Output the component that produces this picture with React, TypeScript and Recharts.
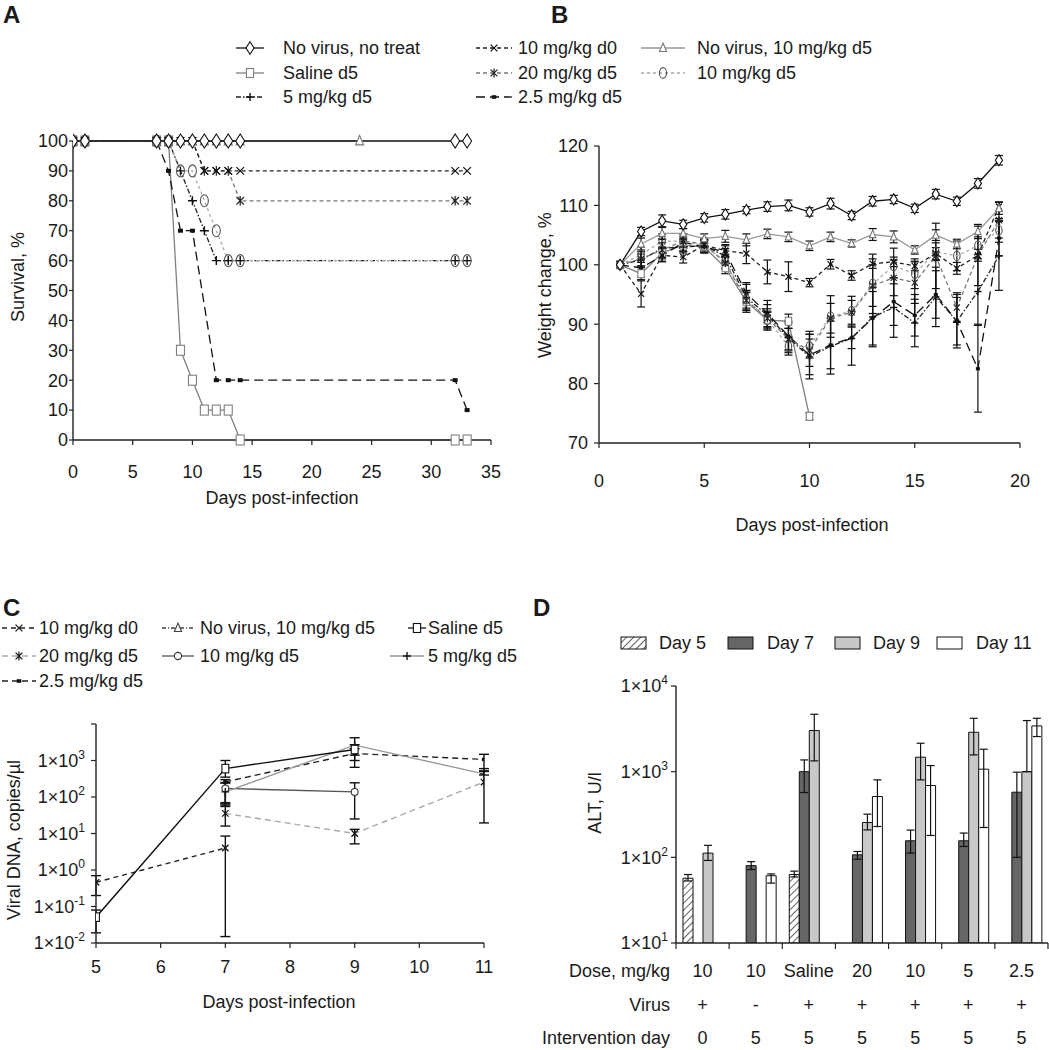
import React from 'react';
import { LineChart, Line, XAxis, YAxis, ErrorBar, BarChart, Bar } from 'recharts';

const FONT = '"Liberation Sans", Arial, Helvetica, sans-serif';
const INK = '#1a1a1a';

// ---------- A: survival ----------
const daysA = [0, 1, 7, 8, 9, 10, 11, 12, 13, 14, 32, 33];
const survNoVirusNoTreat = [100, 100, 100, 100, 100, 100, 100, 100, 100, 100, 100, 100];
const survSaline = [100, 100, 100, 100, 30, 20, 10, 10, 10, 0, 0, 0];
const survFive = [100, 100, 100, 100, 90, 80, 70, 60, 60, 60, 60, 60];
const survTenD0 = [100, 100, 100, 100, 100, 100, 90, 90, 90, 90, 90, 90];
const survTwenty = [100, 100, 100, 100, 100, 100, 90, 90, 90, 80, 80, 80];
const survTwoFive = [100, 100, 100, 90, 70, 70, null, 20, 20, 20, 20, 10];
const survTenD5 = [100, 100, 100, 100, 90, 90, 80, 70, 60, 60, 60, 60];
const daysNoVirusTenA = [0, 1, 7, 8, 9, 10, 11, 12, 13, 14, 24];
const survNoVirusTen = [100, 100, 100, 100, 100, 100, 100, 100, 100, 100, 100];
const survivalTicks = [0, 10, 20, 30, 40, 50, 60, 70, 80, 90, 100];
const daysTicksA = [0, 5, 10, 15, 20, 25, 30, 35];

// ---------- B: weight change ----------
const daysB = [1, 2, 3, 4, 5, 6, 7, 8, 9, 10, 11, 12, 13, 14, 15, 16, 17, 18, 19];
const wNoVirusNoTreat = [100, 105.6, 107.4, 106.8, 107.9, 108.5, 109.2, 109.8, 110.0, 108.9, 110.3, 108.3, 110.7, 111.0, 109.5, 111.9, 110.7, 113.7, 117.6];
const eNoVirusNoTreat = [0.6, 0.7, 1.0, 0.7, 0.7, 0.8, 0.6, 0.8, 0.9, 0.7, 0.9, 0.7, 0.8, 0.7, 0.7, 0.8, 0.7, 0.8, 0.8];
const wNoVirusTen = [100, 103.5, 105.3, 105.3, 104.4, 104.8, 104.2, 105.2, 104.7, 103.2, 104.7, 103.6, 105.1, 104.7, 102.5, 105.0, 103.5, 105.6, 109.5];
const eNoVirusTen = [0.6, 1.0, 1.0, 0.8, 0.8, 1.0, 1.0, 0.8, 0.8, 0.8, 0.8, 0.6, 1.0, 1.0, 0.7, 0.9, 0.8, 1.2, 1.0];
const wTenD0 = [100, 95.1, 101.6, 101.3, 103.3, 102.4, 101.9, 98.8, 98.0, 97.0, 100.1, 98.2, 100.2, 100.5, 99.8, 101.9, 99.4, 101.6, 109.8];
const eTenD0 = [0.5, 2.2, 1.0, 1.0, 1.0, 1.0, 1.7, 2.0, 2.5, 0.7, 0.8, 0.8, 0.8, 0.8, 0.8, 1.0, 1.0, 1.0, 0.8];
const wTwenty = [100, 101.0, 102.5, 104.0, 103.5, 100.3, 94.0, 91.0, 87.5, 85.6, 91.0, 92.0, 96.5, 97.8, 97.0, 101.5, 92.8, 101.5, 107.5];
const eTwenty = [0.5, 1.2, 1.2, 1.2, 1.0, 1.0, 1.6, 1.6, 1.8, 2.7, 2.5, 2.0, 3.5, 3.0, 3.5, 5.5, 2.5, 5.0, 3.0];
const wTenD5 = [100, 101.7, 104.0, 104.0, 103.2, 100.6, 94.2, 90.8, 86.3, 86.3, 91.3, 92.2, 96.8, 99.8, 98.5, 102.2, 101.5, 103.2, 105.8];
const eTenD5 = [0.5, 1.3, 1.2, 1.2, 1.0, 1.1, 1.5, 1.2, 1.5, 2.0, 3.5, 2.5, 5.0, 3.0, 2.5, 1.5, 2.5, 1.5, 2.0];
const wFive = [100, 100.8, 102.8, 103.0, 103.2, 101.5, 94.5, 91.5, 87.7, 84.5, 86.3, 87.6, 91.2, 92.8, 90.2, 94.6, 90.5, 95.5, 101.5];
const eFive = [0.5, 1.0, 1.5, 1.0, 1.0, 1.2, 2.5, 2.5, 2.5, 3.0, 4.7, 4.5, 5.0, 5.0, 4.0, 5.0, 4.5, 5.5, 5.8];
const wTwoFive = [100, 99.5, 101.5, 103.8, 103.0, 102.2, 95.2, 91.8, 88.0, 84.8, 86.5, 87.7, 91.0, 93.8, 91.5, 95.0, 90.5, 82.5, 104.5];
const eTwoFive = [0.5, 1.5, 1.0, 1.0, 1.0, 1.0, 1.5, 1.5, 2.5, 4.0, 4.0, 1.8, 4.5, 4.0, 3.5, 4.0, 4.0, 7.3, 3.0];
const daysSalineB = [1, 2, 3, 4, 5, 6, 7, 8, 9, 10];
const wSaline = [100, 98.5, 102.0, 103.3, 103.0, 99.5, 93.8, 90.7, 90.5, 74.5];
const eSaline = [0.5, 1.0, 1.0, 1.0, 1.0, 1.0, 1.5, 1.5, 1.2, 0.6];
const weightTicks = [70, 80, 90, 100, 110, 120];
const daysTicksB = [0, 5, 10, 15, 20];

// ---------- C: viral DNA (copies/µl), value + error low/high ----------
const dTenD0 = [5, 7];
const vTenD0 = [0.46, 4.0];
const loTenD0 = [0.2, 0.015];
const hiTenD0 = [0.7, 8.5];
const dSaline = [5, 7, 9];
const vSaline = [0.051, 600, 2000];
const loSaline = [0.019, 350, 1400];
const hiSaline = [0.08, 1000, 2700];
const dTwoFive = [7, 9, 11];
const vTwoFive = [260, 1550, 1070];
const loTwoFive = [60, 1000, 500];
const hiTwoFive = [300, 2100, 1480];
const dFive = [7, 9, 11];
const vFive = [138, 2640, 430];
const loFive = [55, 650, 400];
const hiFive = [240, 4200, 520];
const dTenD5 = [7, 9];
const vTenD5 = [172, 138];
const loTenD5 = [65, 25];
const hiTenD5 = [250, 245];
const dTwenty = [7, 9, 11];
const vTwenty = [35.5, 10, 257];
const loTwenty = [16, 5.2, 19.5];
const hiTwenty = [70, 13, 600];
const dnaTicks = [0.01, 0.1, 1, 10, 100, 1000, 10000];
const daysTicksC = [5, 6, 7, 8, 9, 10, 11];

// ---------- D: ALT (U/l) ----------
const doseLabels = ['10', '10', 'Saline', '20', '10', '5', '2.5'];
const virusLabels = ['+', '-', '+', '+', '+', '+', '+'];
const interventionDays = ['0', '5', '5', '5', '5', '5', '5'];
const altDay5 = [57, null, 63, null, null, null, null];
const altDay5Lo = [53, null, 59, null, null, null, null];
const altDay5Hi = [63, null, 69, null, null, null, null];
const altDay7 = [null, 80, 1000, 107, 156, 156, 576];
const altDay7Lo = [null, 72, 571, 95, 112, 134, 100];
const altDay7Hi = [null, 89, 1371, 117, 208, 192, 986];
const altDay9 = [112, null, 3020, 255, 1475, 2884, 1000];
const altDay9Lo = [92, null, 1336, 209, 802, 1570, 1000];
const altDay9Hi = [138, null, 4677, 319, 2148, 4198, 3950];
const altDay11 = [null, 61, null, 513, 689, 1069, 3420];
const altDay11Lo = [null, 50, null, 229, 180, 223, 2570];
const altDay11Hi = [null, 64, null, 802, 1178, 1828, 4200];
const altTicks = [10, 100, 1000, 10000];

type Kind = 'diamond' | 'square' | 'plus' | 'x' | 'star' | 'rect' | 'tri' | 'ellipse' | 'circle';
interface SeriesStyle { label: string; color: string; dash?: string; marker: Kind; mcolor: string }

const ST: Record<string, SeriesStyle> = {
  noVirusNoTreat: { label: 'No virus, no treat', color: '#111', marker: 'diamond', mcolor: '#111' },
  saline: { label: 'Saline d5', color: '#808080', marker: 'square', mcolor: '#808080' },
  five: { label: '5 mg/kg d5', color: '#222', dash: '5 2 1.5 2', marker: 'plus', mcolor: '#111' },
  tenD0: { label: '10 mg/kg d0', color: '#222', dash: '4 3', marker: 'x', mcolor: '#111' },
  twenty: { label: '20 mg/kg d5', color: '#777', dash: '4 3', marker: 'star', mcolor: '#222' },
  twoFive: { label: '2.5 mg/kg d5', color: '#111', dash: '9 5', marker: 'rect', mcolor: '#111' },
  noVirusTen: { label: 'No virus, 10 mg/kg d5', color: '#999', marker: 'tri', mcolor: '#777' },
  tenD5: { label: '10 mg/kg d5', color: '#aaa', dash: '3 3', marker: 'ellipse', mcolor: '#555' },
};

const STC: Record<string, SeriesStyle> = {
  tenD0: { label: '10 mg/kg d0', color: '#222', dash: '5 4', marker: 'x', mcolor: '#111' },
  twenty: { label: '20 mg/kg d5', color: '#aaa', dash: '6 4', marker: 'star', mcolor: '#111' },
  twoFive: { label: '2.5 mg/kg d5', color: '#222', dash: '6 4', marker: 'rect', mcolor: '#111' },
  noVirusTen: { label: 'No virus, 10 mg/kg d5', color: '#444', dash: '4 2 1 2', marker: 'tri', mcolor: '#444' },
  tenD5: { label: '10 mg/kg d5', color: '#555', marker: 'circle', mcolor: '#333' },
  saline: { label: 'Saline d5', color: '#111', marker: 'square', mcolor: '#111' },
  five: { label: '5 mg/kg d5', color: '#999', marker: 'plus', mcolor: '#111' },
};

function Marker({ kind, cx, cy, color, s = 1 }: { kind: Kind; cx: number; cy: number; color: string; s?: number }) {
  const sw = 1.1;
  switch (kind) {
    case 'diamond': {
      const w = 4.5 * s, h = 7 * s;
      return <polygon points={`${cx},${cy - h} ${cx + w},${cy} ${cx},${cy + h} ${cx - w},${cy}`} fill="#fff" stroke={color} strokeWidth={sw} />;
    }
    case 'square': {
      const w = 4 * s, h = 5 * s;
      return <rect x={cx - w} y={cy - h} width={2 * w} height={2 * h} fill="#fff" stroke={color} strokeWidth={sw} />;
    }
    case 'plus': {
      const r = 4.5 * s;
      return <path d={`M${cx - r},${cy}H${cx + r}M${cx},${cy - r}V${cy + r}`} stroke={color} strokeWidth={1.4} fill="none" />;
    }
    case 'x': {
      const r = 3.8 * s;
      return <path d={`M${cx - r},${cy - r}L${cx + r},${cy + r}M${cx + r},${cy - r}L${cx - r},${cy + r}`} stroke={color} strokeWidth={1.2} fill="none" />;
    }
    case 'star': {
      const r = 3.8 * s;
      return <path d={`M${cx - r},${cy - r}L${cx + r},${cy + r}M${cx + r},${cy - r}L${cx - r},${cy + r}M${cx},${cy - r - 1}V${cy + r + 1}`} stroke={color} strokeWidth={1.2} fill="none" />;
    }
    case 'rect':
      return <rect x={cx - 2.5 * s} y={cy - 2 * s} width={5 * s} height={4 * s} fill={color} />;
    case 'tri': {
      const w = 4 * s, h = 5.5 * s;
      return <polygon points={`${cx},${cy - h} ${cx + w},${cy + h * 0.7} ${cx - w},${cy + h * 0.7}`} fill="#fff" stroke={color} strokeWidth={sw} />;
    }
    case 'ellipse':
      return <ellipse cx={cx} cy={cy} rx={4 * s} ry={6 * s} fill="none" stroke={color} strokeWidth={sw} />;
    case 'circle':
      return <circle cx={cx} cy={cy} r={4 * s} fill="#fff" stroke={color} strokeWidth={sw} />;
    default:
      return null;
  }
}

const dotOf = (st: SeriesStyle, s: number) => (p: any) => {
  const { cx, cy, index } = p;
  if (cx == null || cy == null || Number.isNaN(cy)) return <g key={`d${index}`} />;
  return (
    <g key={`d${index}`}>
      <Marker kind={st.marker} cx={cx} cy={cy} color={st.mcolor} s={s} />
    </g>
  );
};

const pts = (xs: number[], ys: (number | null)[]) => xs.map((x, i) => ({ x, y: ys[i] }));
const ptsErr = (xs: number[], ys: number[], es: number[]) => xs.map((x, i) => ({ x, y: ys[i], e: es[i] }));
const ptsRange = (xs: number[], ys: number[], lo: number[], hi: number[]) =>
  xs.map((x, i) => ({ x, y: ys[i], e: [ys[i] - lo[i], hi[i] - ys[i]] }));
const errOf = (v: number | null, lo: number | null, hi: number | null) =>
  v == null || lo == null || hi == null ? undefined : [v - lo, hi - v];

const altRows = doseLabels.map((dose, i) => ({
  cat: i,
  dose,
  d5: altDay5[i], d5e: errOf(altDay5[i], altDay5Lo[i], altDay5Hi[i]),
  d7: altDay7[i], d7e: errOf(altDay7[i], altDay7Lo[i], altDay7Hi[i]),
  d9: altDay9[i], d9e: errOf(altDay9[i], altDay9Lo[i], altDay9Hi[i]),
  d11: altDay11[i], d11e: errOf(altDay11[i], altDay11Lo[i], altDay11Hi[i]),
}));

const axisLine = { stroke: '#222', strokeWidth: 1.4 };
const tickLine = { stroke: '#222', strokeWidth: 1.2 };
const tickStyle = { fontSize: 18, fill: INK, fontFamily: FONT };

function Txt({ x, y, children, anchor = 'start', size = 18, bold = false, rotate = false }: any) {
  const tx = anchor === 'start' ? '0' : anchor === 'middle' ? '-50%' : '-100%';
  return (
    <div
      style={{
        position: 'absolute', left: x, top: y, whiteSpace: 'nowrap', lineHeight: 1,
        transform: `translate(${tx}, -50%)${rotate ? ' rotate(-90deg)' : ''}`,
        fontSize: size, fontWeight: bold ? 700 : 400, fontFamily: FONT, color: INK,
      }}
    >
      {children}
    </div>
  );
}

function LegendItem({ x, y, w, textX, st }: { x: number; y: number; w: number; textX: number; st: SeriesStyle }) {
  return (
    <>
      <svg style={{ position: 'absolute', left: x, top: y - 9 }} width={w} height={18}>
        <line x1={0} y1={9} x2={w} y2={9} stroke={st.color} strokeWidth={1.3} strokeDasharray={st.dash} />
        <Marker kind={st.marker} cx={w / 2} cy={9} color={st.mcolor} s={0.9} />
      </svg>
      <Txt x={textX} y={y}>{st.label}</Txt>
    </>
  );
}

function PowTick(props: any) {
  const { x, y, payload, maxLabel } = props;
  const v = payload.value;
  if (v > maxLabel) return <g />;
  const exp = Math.round(Math.log10(v));
  return (
    <text x={x} y={y} dy="0.36em" textAnchor="end" fontSize={18} fill={INK} fontFamily={FONT}>
      1×10<tspan dy={-8} fontSize={12}>{exp}</tspan>
    </text>
  );
}

function DoseTick(props: any) {
  const { x, y, payload } = props;
  const i = payload.value as number;
  const half = payload.offset ?? 26.6;
  const t = { textAnchor: 'middle' as const, fontSize: 18, fill: INK, fontFamily: FONT };
  return (
    <g>
      <line x1={x + half} y1={y} x2={x + half} y2={y + 6} stroke="#222" strokeWidth={1.2} />
      {i === 0 && <line x1={x - half} y1={y} x2={x - half} y2={y + 6} stroke="#222" strokeWidth={1.2} />}
      <text x={x} y={y + 34} {...t}>{doseLabels[i]}</text>
      <text x={x} y={y + 68} {...t}>{virusLabels[i]}</text>
      <text x={x} y={y + 101} {...t}>{interventionDays[i]}</text>
    </g>
  );
}

const seriesA = [
  { st: ST.saline, data: pts(daysA, survSaline) },
  { st: ST.twoFive, data: pts(daysA, survTwoFive) },
  { st: ST.five, data: pts(daysA, survFive) },
  { st: ST.tenD5, data: pts(daysA, survTenD5) },
  { st: ST.twenty, data: pts(daysA, survTwenty) },
  { st: ST.tenD0, data: pts(daysA, survTenD0) },
  { st: ST.noVirusTen, data: pts(daysNoVirusTenA, survNoVirusTen) },
  { st: ST.noVirusNoTreat, data: pts(daysA, survNoVirusNoTreat) },
];

const seriesB = [
  { st: ST.saline, data: ptsErr(daysSalineB, wSaline, eSaline) },
  { st: ST.twoFive, data: ptsErr(daysB, wTwoFive, eTwoFive) },
  { st: ST.five, data: ptsErr(daysB, wFive, eFive) },
  { st: ST.tenD5, data: ptsErr(daysB, wTenD5, eTenD5) },
  { st: ST.twenty, data: ptsErr(daysB, wTwenty, eTwenty) },
  { st: ST.tenD0, data: ptsErr(daysB, wTenD0, eTenD0) },
  { st: ST.noVirusTen, data: ptsErr(daysB, wNoVirusTen, eNoVirusTen) },
  { st: ST.noVirusNoTreat, data: ptsErr(daysB, wNoVirusNoTreat, eNoVirusNoTreat) },
];

const seriesC = [
  { st: STC.twenty, data: ptsRange(dTwenty, vTwenty, loTwenty, hiTwenty) },
  { st: STC.tenD0, data: ptsRange(dTenD0, vTenD0, loTenD0, hiTenD0) },
  { st: STC.tenD5, data: ptsRange(dTenD5, vTenD5, loTenD5, hiTenD5) },
  { st: STC.twoFive, data: ptsRange(dTwoFive, vTwoFive, loTwoFive, hiTwoFive) },
  { st: STC.five, data: ptsRange(dFive, vFive, loFive, hiFive) },
  { st: STC.saline, data: ptsRange(dSaline, vSaline, loSaline, hiSaline) },
];

export default function App() {
  return (
    <div style={{ position: 'absolute', left: 0, top: 0, width: 1049, height: 1050, background: '#fff', overflow: 'hidden' }}>
      {/* panel letters */}
      <Txt x={3} y={15} size={24} bold>A</Txt>
      <Txt x={551} y={15} size={24} bold>B</Txt>
      <Txt x={3} y={608} size={24} bold>C</Txt>
      <Txt x={533} y={608} size={24} bold>D</Txt>

      {/* shared legend for A and B */}
      <LegendItem x={236} y={48} w={28} textX={283} st={ST.noVirusNoTreat} />
      <LegendItem x={236} y={73} w={28} textX={283} st={ST.saline} />
      <LegendItem x={236} y={97} w={28} textX={283} st={ST.five} />
      <LegendItem x={476} y={48} w={36} textX={518} st={ST.tenD0} />
      <LegendItem x={476} y={73} w={36} textX={518} st={ST.twenty} />
      <LegendItem x={476} y={97} w={36} textX={518} st={ST.twoFive} />
      <LegendItem x={641} y={48} w={44} textX={697} st={ST.noVirusTen} />
      <LegendItem x={641} y={73} w={44} textX={697} st={ST.tenD5} />

      {/* A */}
      <div style={{ position: 'absolute', left: 0, top: 120 }}>
        <LineChart width={530} height={400} margin={{ top: 21, right: 39, left: 23, bottom: 50 }}>
          <XAxis type="number" dataKey="x" domain={[0, 35]} ticks={daysTicksA} interval={0} height={30}
            tick={tickStyle} tickSize={5} tickMargin={20} axisLine={axisLine} tickLine={tickLine} allowDataOverflow />
          <YAxis type="number" domain={[0, 100]} ticks={survivalTicks} interval={0} width={50}
            tick={tickStyle} tickSize={4} tickMargin={1} axisLine={axisLine} tickLine={tickLine} />
          {seriesA.map((s) => (
            <Line key={s.st.label} data={s.data} dataKey="y" type="linear" stroke={s.st.color} strokeWidth={1.3}
              strokeDasharray={s.st.dash} dot={dotOf(s.st, 1)} activeDot={false} connectNulls isAnimationActive={false} />
          ))}
        </LineChart>
      </div>
      <Txt x={18} y={277} rotate anchor="middle">Survival, %</Txt>
      <Txt x={282} y={498} anchor="middle">Days post-infection</Txt>

      {/* B */}
      <div style={{ position: 'absolute', left: 530, top: 120 }}>
        <LineChart width={519} height={420} margin={{ top: 26, right: 29, left: 19, bottom: 67 }}>
          <XAxis type="number" dataKey="x" domain={[0, 20]} ticks={daysTicksB} interval={0} height={30}
            tick={tickStyle} tickSize={5} tickMargin={26} axisLine={axisLine} tickLine={tickLine} allowDataOverflow />
          <YAxis type="number" domain={[70, 120]} ticks={weightTicks} interval={0} width={50}
            tick={tickStyle} tickSize={5} tickMargin={6} axisLine={axisLine} tickLine={tickLine} allowDataOverflow />
          {seriesB.map((s) => (
            <Line key={s.st.label} data={s.data} dataKey="y" type="linear" stroke={s.st.color} strokeWidth={1.3}
              strokeDasharray={s.st.dash} dot={dotOf(s.st, 0.8)} activeDot={false} isAnimationActive={false}>
              <ErrorBar dataKey="e" width={4} stroke="#111" strokeWidth={1.2} direction="y" />
            </Line>
          ))}
        </LineChart>
      </div>
      <Txt x={545} y={285} rotate anchor="middle">Weight change, %</Txt>
      <Txt x={812} y={525} anchor="middle">Days post-infection</Txt>

      {/* C legend */}
      <LegendItem x={2} y={628} w={34} textX={39} st={STC.tenD0} />
      <LegendItem x={2} y={656} w={34} textX={39} st={STC.twenty} />
      <LegendItem x={2} y={681} w={34} textX={39} st={STC.twoFive} />
      <LegendItem x={162} y={628} w={32} textX={200} st={STC.noVirusTen} />
      <LegendItem x={162} y={656} w={32} textX={200} st={STC.tenD5} />
      <LegendItem x={408} y={628} w={18} textX={428} st={STC.saline} />
      <LegendItem x={390} y={656} w={34} textX={428} st={STC.five} />

      {/* C */}
      <div style={{ position: 'absolute', left: 0, top: 700 }}>
        <LineChart width={530} height={300} margin={{ top: 24, right: 46, left: 16, bottom: 27 }}>
          <XAxis type="number" dataKey="x" domain={[5, 11]} ticks={daysTicksC} interval={0} height={30}
            tick={tickStyle} tickSize={5} tickMargin={12} axisLine={axisLine} tickLine={tickLine} allowDataOverflow />
          <YAxis type="number" scale="log" domain={[0.01, 10000]} ticks={dnaTicks} interval={0} width={80}
            tick={(p: any) => <PowTick {...p} maxLabel={1000} />} tickSize={5} tickMargin={6}
            axisLine={axisLine} tickLine={tickLine} allowDataOverflow />
          {seriesC.map((s) => (
            <Line key={s.st.label} data={s.data} dataKey="y" type="linear" stroke={s.st.color} strokeWidth={1.4}
              strokeDasharray={s.st.dash} dot={dotOf(s.st, 0.85)} activeDot={false} isAnimationActive={false}>
              <ErrorBar dataKey="e" width={5} stroke="#111" strokeWidth={1.4} direction="y" />
            </Line>
          ))}
        </LineChart>
      </div>
      <Txt x={14} y={840} rotate anchor="middle">Viral DNA, copies/µl</Txt>
      <Txt x={279} y={1002} anchor="middle">Days post-infection</Txt>

      {/* D legend */}
      <svg style={{ position: 'absolute', left: 620, top: 636 }} width={28} height={15}>
        <defs>
          <pattern id="hatchL" width="5" height="5" patternUnits="userSpaceOnUse" patternTransform="rotate(45)">
            <rect width="5" height="5" fill="#fff" />
            <line x1="0" y1="0" x2="0" y2="5" stroke="#111" strokeWidth="1.3" />
          </pattern>
        </defs>
        <rect x={1} y={1} width={25} height={12} fill="url(#hatchL)" stroke="#111" />
      </svg>
      <Txt x={659} y={643}>Day 5</Txt>
      <svg style={{ position: 'absolute', left: 727, top: 636 }} width={28} height={15}>
        <rect x={1} y={1} width={25} height={12} fill="#666" stroke="#111" />
      </svg>
      <Txt x={767} y={643}>Day 7</Txt>
      <svg style={{ position: 'absolute', left: 834, top: 636 }} width={28} height={15}>
        <rect x={1} y={1} width={25} height={12} fill="#c8c8c8" stroke="#111" />
      </svg>
      <Txt x={873} y={643}>Day 9</Txt>
      <svg style={{ position: 'absolute', left: 936, top: 636 }} width={28} height={15}>
        <rect x={1} y={1} width={25} height={12} fill="#fff" stroke="#111" />
      </svg>
      <Txt x={976} y={643}>Day 11</Txt>

      {/* D */}
      <div style={{ position: 'absolute', left: 530, top: 660 }}>
        <BarChart width={519} height={390} data={altRows} margin={{ top: 26, right: 1, left: 86, bottom: 7 }}
          barGap={0} barSize={10}>
          <defs>
            <pattern id="hatch" width="5" height="5" patternUnits="userSpaceOnUse" patternTransform="rotate(45)">
              <rect width="5" height="5" fill="#fff" />
              <line x1="0" y1="0" x2="0" y2="5" stroke="#111" strokeWidth="1.3" />
            </pattern>
          </defs>
          <XAxis type="category" dataKey="cat" interval={0} height={100} tick={(p: any) => <DoseTick {...p} />}
            tickLine={false} tickSize={0} tickMargin={0} axisLine={axisLine} />
          <YAxis type="number" scale="log" domain={[10, 10000]} ticks={altTicks} interval={0} width={60}
            tick={(p: any) => <PowTick {...p} maxLabel={1e9} />} tickSize={5} tickMargin={3}
            axisLine={axisLine} tickLine={tickLine} allowDataOverflow />
          <Bar dataKey="d5" fill="url(#hatch)" stroke="#111" strokeWidth={1} isAnimationActive={false}>
            <ErrorBar dataKey="d5e" width={4} stroke="#111" strokeWidth={1.2} direction="y" />
          </Bar>
          <Bar dataKey="d7" fill="#666" stroke="#111" strokeWidth={1} isAnimationActive={false}>
            <ErrorBar dataKey="d7e" width={4} stroke="#111" strokeWidth={1.2} direction="y" />
          </Bar>
          <Bar dataKey="d9" fill="#c8c8c8" stroke="#111" strokeWidth={1} isAnimationActive={false}>
            <ErrorBar dataKey="d9e" width={4} stroke="#111" strokeWidth={1.2} direction="y" />
          </Bar>
          <Bar dataKey="d11" fill="#fff" stroke="#111" strokeWidth={1} isAnimationActive={false}>
            <ErrorBar dataKey="d11e" width={4} stroke="#111" strokeWidth={1.2} direction="y" />
          </Bar>
        </BarChart>
      </div>
      <Txt x={595} y={803} rotate anchor="middle">ALT, U/l</Txt>
      <Txt x={670} y={971} anchor="end">Dose, mg/kg</Txt>
      <Txt x={670} y={1005} anchor="end">Virus</Txt>
      <Txt x={670} y={1038} anchor="end">Intervention day</Txt>
    </div>
  );
}
